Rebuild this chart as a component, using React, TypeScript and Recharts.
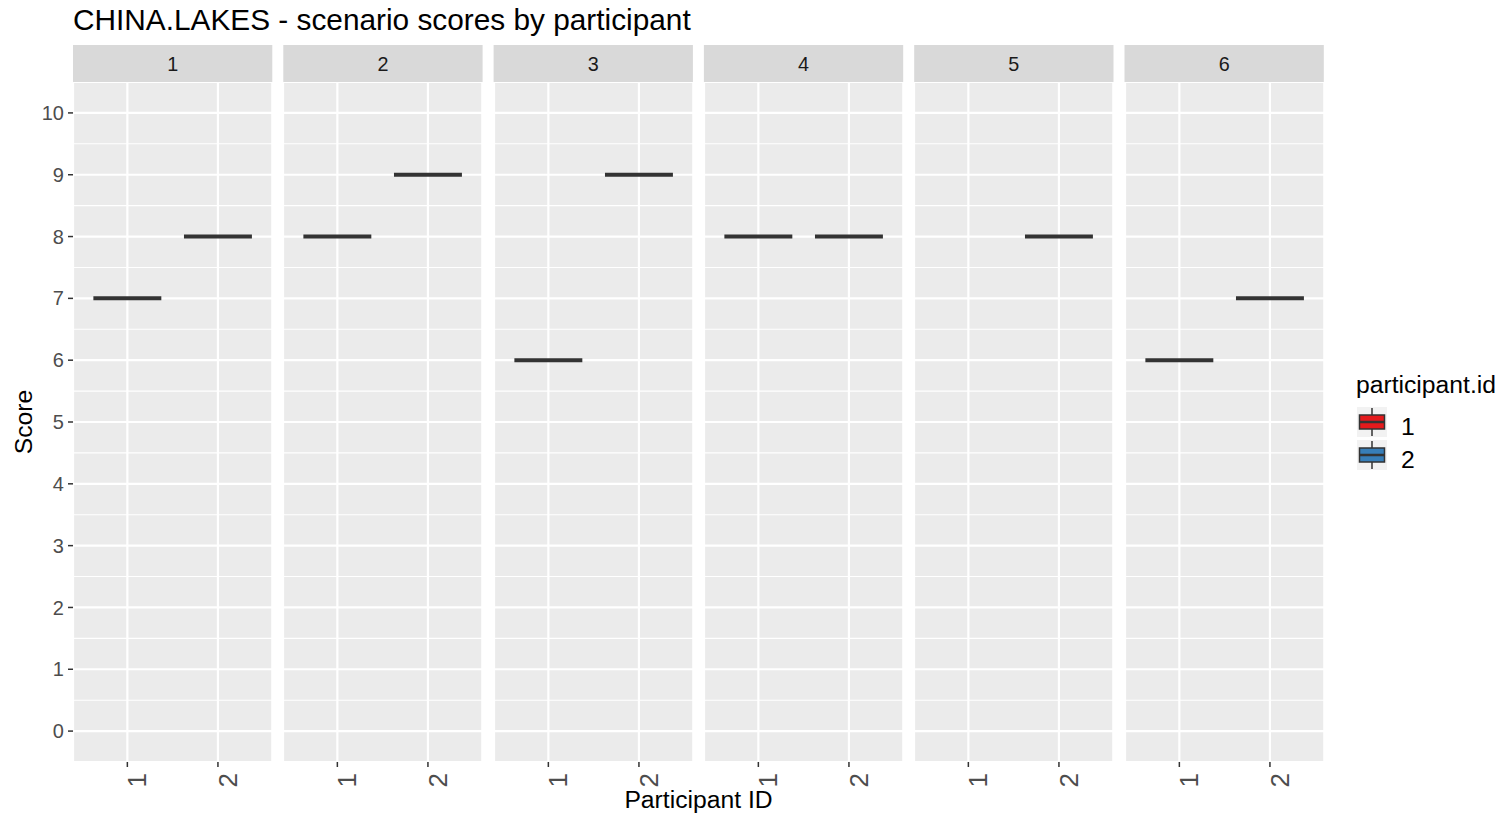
import React from "react";
import {
  ComposedChart,
  Scatter,
  XAxis,
  YAxis,
  CartesianGrid,
  ReferenceLine,
} from "recharts";

const SCENARIOS = ["1", "2", "3", "4", "5", "6"];
const PARTICIPANTS = ["1", "2"];
const PARTICIPANT_COLORS = ["#E41A1C", "#377EB8"];
const P1_SCORES: (number | null)[] = [7, 8, 6, 8, null, 6];
const P2_SCORES: (number | null)[] = [8, 9, 9, 8, 8, 7];
const Y_TICKS = [0, 1, 2, 3, 4, 5, 6, 7, 8, 9, 10];
const Y_MINOR = [0.5, 1.5, 2.5, 3.5, 4.5, 5.5, 6.5, 7.5, 8.5, 9.5];
const X_POSITIONS = [1, 2];

const FONT = "'Liberation Sans', Arial, Helvetica, sans-serif";
const PANEL_W = 199.3;
const GAP = 11;
const LEFT0 = 73;
const TOP = 82;
const PLOT_H = 680;
const AXIS_W = 73;
const XAXIS_H = 50;
const STRIP_TOP = 45;
const BOX_HALF = (0.375 * PANEL_W) / 2.2;

const scores = [P1_SCORES, P2_SCORES];

const XTick = (props: any) => {
  const { x, y, payload } = props;
  return (
    <text
      transform={`translate(${x + 19},${y}) rotate(-90)`}
      textAnchor="end"
      fontSize={26}
      fontFamily={FONT}
      fill="#4D4D4D"
    >
      {PARTICIPANTS[payload.value - 1]}
    </text>
  );
};

// collapsed boxplot: single value per group, so the box is just a thick line
const BoxLine = (props: any) => {
  const { cx, cy } = props;
  return (
    <line
      x1={cx - BOX_HALF}
      x2={cx + BOX_HALF}
      y1={cy}
      y2={cy}
      stroke="#333333"
      strokeWidth={4}
    />
  );
};

const Panel = ({ idx }: { idx: number }) => {
  const first = idx === 0;
  const data = PARTICIPANTS.map((p, j) => ({
    pos: X_POSITIONS[j],
    pid: p,
    score: scores[j][idx],
  })).filter((r) => r.score !== null);
  const left = LEFT0 + idx * (PANEL_W + GAP) - (first ? AXIS_W : 0);
  const width = PANEL_W + (first ? AXIS_W : 0);
  return (
    <div style={{ position: "absolute", left, top: TOP }}>
      <ComposedChart
        width={width}
        height={PLOT_H + XAXIS_H}
        data={data}
        margin={{ top: 0, right: 0, bottom: 0, left: 0 }}
      >
        <CartesianGrid stroke="#FFFFFF" strokeWidth={2.2} fill="#EBEBEB" />
        <XAxis
          type="number"
          dataKey="pos"
          domain={[0.4, 2.6]}
          ticks={X_POSITIONS}
          allowDataOverflow
          axisLine={false}
          tickSize={5}
          tickMargin={6}
          tickLine={{ stroke: "#333333", strokeWidth: 1.5 }}
          tick={<XTick />}
          height={XAXIS_H}
          interval={0}
        />
        <YAxis
          type="number"
          dataKey="score"
          domain={[-0.5, 10.5]}
          ticks={Y_TICKS}
          allowDataOverflow
          hide={!first}
          width={AXIS_W}
          axisLine={false}
          tickSize={5}
          tickMargin={4}
          tickLine={{ stroke: "#333333", strokeWidth: 1.5 }}
          tick={{ fill: "#4D4D4D", fontSize: 20, fontFamily: FONT }}
          interval={0}
        />
        {Y_MINOR.map((v) => (
          <ReferenceLine key={v} y={v} stroke="#FFFFFF" strokeWidth={1.1} />
        ))}
        <Scatter
          dataKey="score"
          shape={<BoxLine />}
          isAnimationActive={false}
        />
      </ComposedChart>
    </div>
  );
};

const Overlay = () => {
  return (
    <svg
      width={1502}
      height={818}
      style={{ position: "absolute", left: 0, top: 0, pointerEvents: "none" }}
      fontFamily={FONT}
    >
      <text x={73} y={30} fontSize={29.8} fill="#000000">
        CHINA.LAKES - scenario scores by participant
      </text>
      {SCENARIOS.map((s, i) => {
        const x = LEFT0 + i * (PANEL_W + GAP);
        return (
          <g key={s}>
            <rect x={x} y={STRIP_TOP} width={PANEL_W} height={TOP - STRIP_TOP} fill="#D9D9D9" />
            <text x={x + PANEL_W / 2} y={71} fontSize={19.8} textAnchor="middle" fill="#1A1A1A">
              {s}
            </text>
          </g>
        );
      })}
      <text
        transform={`translate(32,${TOP + PLOT_H / 2}) rotate(-90)`}
        textAnchor="middle"
        fontSize={24.7}
        fill="#000000"
      >
        Score
      </text>
      <text x={(LEFT0 + 1324) / 2} y={808} textAnchor="middle" fontSize={24.7} fill="#000000">
        Participant ID
      </text>
      <text x={1356} y={393} fontSize={24.7} fill="#000000">
        participant.id
      </text>
      {PARTICIPANTS.map((p, j) => {
        const y0 = 407 + j * 33;
        return (
          <g key={p}>
            <rect x={1357} y={y0} width={30} height={30} fill="#F2F2F2" />
            <line x1={1372} x2={1372} y1={y0 + 1} y2={y0 + 29} stroke="#333333" strokeWidth={1.5} />
            <rect
              x={1359.5}
              y={y0 + 8}
              width={25}
              height={14}
              fill={PARTICIPANT_COLORS[j]}
              stroke="#333333"
              strokeWidth={1.5}
            />
            <line x1={1359.5} x2={1384.5} y1={y0 + 15} y2={y0 + 15} stroke="#333333" strokeWidth={2.5} />
            <text x={1401} y={y0 + 28} fontSize={24.7} fill="#000000">
              {p}
            </text>
          </g>
        );
      })}
    </svg>
  );
};

export default function App() {
  return (
    <div style={{ position: "absolute", left: 0, top: 0, width: 1502, height: 818, background: "#FFFFFF" }}>
      {SCENARIOS.map((s, i) => (
        <Panel key={s} idx={i} />
      ))}
      <Overlay />
    </div>
  );
}
